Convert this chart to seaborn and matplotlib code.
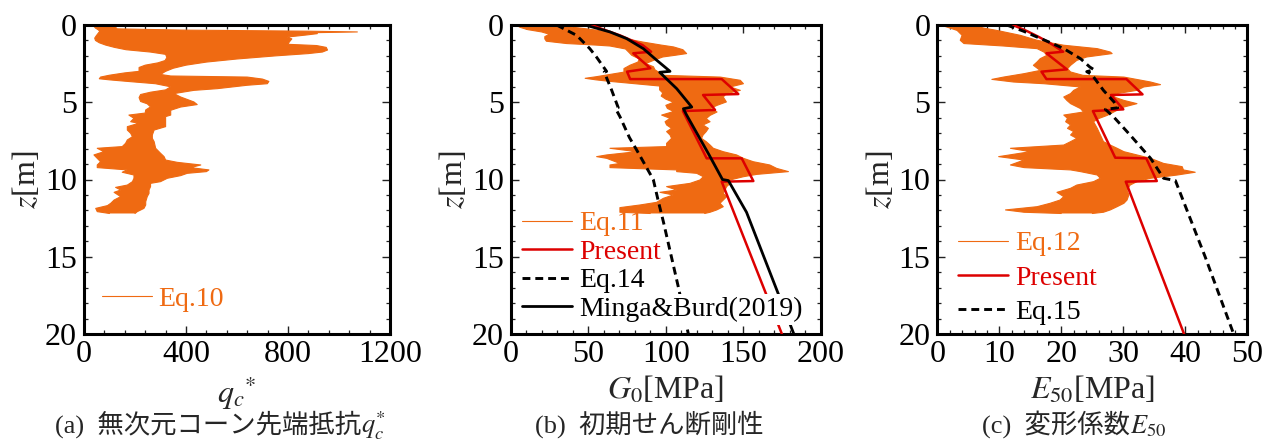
import numpy as np
import matplotlib
matplotlib.use("Agg")
import matplotlib.pyplot as plt
import seaborn as sns
from matplotlib.ticker import MultipleLocator

# ---------------- data ----------------
# (a) dimensionless cone tip resistance qc* : envelope of the CPT trace
qa_right_z = [0.03, 0.05, 0.08, 0.25, 0.33, 0.40, 0.45, 0.50, 0.56, 0.65, 0.78, 0.9, 1.1, 1.25, 1.33, 1.45,
              1.62, 1.75, 1.85, 2.0, 2.2, 2.4, 2.6, 2.8, 3.0, 3.2, 3.3, 3.37, 3.5, 3.65, 3.8, 3.9, 4.12,
              4.23, 4.44, 4.66, 4.98, 5.15, 5.31, 5.52, 5.83, 5.93, 6.58, 6.8, 7.12, 7.34, 7.55, 7.98,
              8.3, 8.52, 8.74, 8.89, 9.06, 9.23, 9.38, 9.49, 9.6, 9.75, 9.92, 10.14, 10.25, 10.46,
              10.68, 10.9, 11.11, 11.44, 11.65, 11.87, 12.08, 12.2]
qa_right_v = [60, 350, 120, 130, 390, 880, 1072, 890, 915, 870, 797, 815, 805, 800, 912, 950,
              955, 935, 880, 750, 600, 480, 400, 350, 320, 300, 340, 640, 700, 725, 719, 640, 523,
              431, 353, 379, 431, 444, 379, 340, 340, 320, 320, 275, 268, 268, 275, 281,
              300, 314, 320, 366, 458, 418, 490, 480, 405, 379, 327, 300, 261, 261,
              255, 255, 248, 242, 242, 235, 209, 200]
qa_left_z = [0.03, 0.05, 0.1, 0.2, 0.3, 0.4, 0.55, 0.7, 0.85, 1.0, 1.15, 1.3, 1.45, 1.6, 1.75, 1.9, 2.1,
             2.3, 2.45, 2.6, 2.75, 3.0, 3.1, 3.25, 3.37, 3.48, 3.55, 3.65, 3.8, 4.0, 4.2, 4.35, 4.5,
             4.7, 4.95, 5.1, 5.3, 5.5, 5.7, 5.83, 6.04, 6.26, 6.36, 6.58, 6.8, 7.01, 7.23, 7.44, 7.66,
             7.87, 7.98, 8.2, 8.41, 8.63, 8.85, 9.06, 9.23, 9.38, 9.53, 9.71, 9.92, 10.14, 10.36,
             10.51, 10.68, 10.83, 11.11, 11.33, 11.54, 11.69, 11.87, 12.08, 12.2]
qa_left_v = [40, 30, 40, 45, 55, 62, 55, 48, 42, 45, 60, 85, 120, 165, 260, 320, 325,
             318, 290, 240, 216, 216, 160, 100, 65, 60, 100, 170, 280, 340, 320, 261, 222,
             216, 222, 248, 261, 242, 240, 176, 196, 183, 215, 170, 170, 183, 190, 170, 163,
             150, 52, 78, 39, 52, 65, 52, 52, 170, 150, 196, 196, 190, 170,
             124, 144, 118, 144, 118, 105, 92, 46, 52, 100]

# (b) initial shear stiffness G0 [MPa]
gb_right_z = [0.03, 0.06, 0.12, 0.3, 0.45, 0.6, 0.75, 0.9, 1.1, 1.3, 1.42, 1.6, 1.85, 1.96, 2.07, 2.29,
              2.5, 2.7, 2.9, 3.1, 3.26, 3.37, 3.58, 3.8, 4.01, 4.23, 4.44, 4.66, 4.98, 5.2, 5.41,
              5.63, 5.85, 6.06, 6.26, 6.47, 6.69, 6.9, 7.12, 7.34, 7.55, 7.77, 7.98, 8.2, 8.41,
              8.63, 8.85, 9.06, 9.28, 9.49, 9.67, 9.82, 10.03, 10.25, 10.46, 10.9, 11.11, 11.33,
              11.54, 11.76, 11.97, 12.12, 12.2]
gb_right_v = [10, 48, 38, 53, 62, 68, 72, 75, 85, 97, 105, 111, 113.4, 106, 98, 92,
              87, 92, 93, 96, 99, 135, 148, 150, 141.5, 148, 139, 137, 139, 133, 128.5,
              133, 128.5, 126, 128.5, 124, 127.4, 126, 124, 123, 126, 128.5, 130.6, 137, 145.6,
              150, 156.4, 167, 171.4, 179, 158.5, 150, 141.4, 141.4, 139.2, 137, 139.2, 137,
              134.9, 137, 132.8, 128.5, 125]
gb_left_z = [0.03, 0.15, 0.3, 0.45, 0.6, 0.75, 0.9, 1.05, 1.2, 1.3, 1.36, 1.55, 1.75, 1.96, 2.2, 2.4,
             2.6, 2.82, 3.05, 3.2, 3.35, 3.45, 3.55, 3.65, 3.8, 3.95, 4.2, 4.4, 4.6, 4.8, 5.0, 5.2,
             5.4, 5.6, 5.83, 6.04, 6.26, 6.47, 6.69, 6.9, 7.12, 7.34, 7.66, 7.87, 7.98, 8.2, 8.41,
             8.52, 8.63, 8.96, 9.06, 9.23, 9.38, 9.49, 9.6, 9.82, 10.03, 10.25, 10.46, 10.68,
             10.83, 11.0, 11.22, 11.48, 11.65, 11.82, 12.12, 12.2]
gb_left_v = [4, 6, 11, 20, 25, 22, 22, 23, 36, 55, 64, 74, 76, 78, 83, 82,
             77, 73, 73, 64, 55, 48, 55, 64, 80, 96, 96, 98, 97, 100, 105, 100,
             101, 105, 97.3, 102.7, 99.5, 100.5, 103.7, 100.5, 102.7, 103.7, 100.5, 100.5, 64, 81.2, 61.9,
             55.4, 61.9, 70.4, 64, 64, 107, 107, 119.9, 124.2, 122, 115.6, 100.5, 107,
             96.2, 104.8, 98.4, 94, 83.3, 70.4, 70.4, 90]

gb_present_z = [0.0, 0.3, 0.67, 1.0, 1.3, 1.73, 1.83, 2.8, 3.02, 3.5, 3.5, 4.47, 4.53, 5.5, 5.57,
                8.63, 8.63, 10.1, 10.14, 20.0]
gb_present_v = [52, 60, 70.4, 78, 85, 90.5, 79, 90, 75, 77, 136, 146.7, 124, 131.7, 111,
                126.3, 148.9, 156.4, 136, 174.8]
gb_eq14_z = [0.0, 0.67, 1.53, 2.09, 3.0, 3.05, 4.2, 5.35, 5.45, 5.93, 7.28, 8.09, 10.0, 11.43, 12.73,
             16.94, 20.0]
gb_eq14_v = [29.6, 42.5, 51, 55.4, 61.8, 60.3, 65, 69.3, 67.8, 70.4, 76.5, 81.2, 91.9, 95.2, 98.4,
             108, 114.5]
gb_minga_z = [0.0, 0.45, 0.88, 1.53, 2.27, 3.0, 3.06, 4.12, 5.31, 5.42, 5.83, 8.41, 10.0, 10.07,
              12.12, 17.15, 20.0]
gb_minga_v = [48, 64, 74.7, 85.5, 94, 102.7, 96, 107, 116.7, 111.3, 113.4, 127.9, 136.5, 140.3,
              152, 171.5, 182.5]

# (c) deformation modulus E50 [MPa]
ec_right_z = [0.03, 0.06, 0.2, 0.35, 0.67, 0.99, 1.31, 1.53, 1.75, 1.85, 2.07, 2.29, 2.61, 2.83, 3.04,
              3.26, 3.37, 3.69, 3.86, 4.01, 4.23, 4.44, 4.66, 4.88, 5.09, 5.31, 5.52, 5.85, 6.06,
              6.26, 6.69, 7.12, 7.55, 7.77, 7.98, 8.2, 8.41, 8.63, 8.96, 9.17, 9.38, 9.53, 9.71,
              9.92, 10.14, 10.36, 10.68, 11.0, 11.33, 11.54, 11.76, 11.97, 12.12, 12.2]
ec_right_v = [3, 6.2, 7.5, 9.6, 13.4, 16.1, 20.4, 25.8, 27.9, 28.2, 24.1, 22.5, 21.5, 21.0, 21.5,
              23.5, 30.1, 34.4, 36.0, 33.3, 32.2, 29.0, 28.5, 30.1, 32.2, 30.1, 29.0, 27.4, 26.0,
              25.2, 25.8, 26.3, 26.8, 27.9, 29.0, 30.1, 32.2, 34.4, 36.5, 39.5, 39.7, 41.6, 38.7,
              34.4, 32.2, 31.1, 30.6, 30.9, 30.6, 30.1, 29.0, 27.9, 26.8, 25]
ec_left_z = [0.03, 0.06, 0.35, 0.67, 0.99, 1.2, 1.36, 1.53, 1.75, 1.96, 2.18, 2.39, 2.61, 2.94, 3.15,
             3.37, 3.52, 3.69, 3.8, 4.01, 4.23, 4.44, 4.66, 4.88, 5.09, 5.41, 5.63, 5.83, 6.04,
             6.26, 6.47, 6.69, 6.9, 7.12, 7.34, 7.55, 7.77, 7.98, 8.2, 8.52, 8.74, 9.06, 9.23,
             9.38, 9.49, 9.71, 9.92, 10.14, 10.36, 10.57, 10.83, 11.11, 11.33, 11.54, 11.76,
             11.97, 12.12, 12.2]
ec_left_v = [1.5, 1.0, 3.2, 4.0, 3.7, 4.3, 10.7, 16.1, 17.2, 17.7, 16.6, 16.1, 15.5, 16.6, 14.0,
             10.7, 8.8, 12.3, 17.2, 23.1, 22.0, 21.5, 20.4, 20.9, 21.5, 23.1, 23.6, 20.4, 21.0,
             20.7, 21.5, 21.0, 22.0, 21.5, 22.5, 21.5, 20.4, 11.8, 15.0, 9.9, 14.0, 11.8, 14.0,
             21.5, 23.1, 25.8, 26.3, 25.2, 22.5, 21.5, 19.3, 20.4, 19.8, 18.2, 16.1,
             11.0, 14.0, 20]

ec_present_z = [0.0, 0.4, 0.8, 1.2, 1.73, 1.83, 2.87, 3.02, 3.5, 3.5, 4.49, 4.53, 5.46, 5.57,
                8.59, 8.63, 10.1, 10.14, 20.0]
ec_present_v = [12.2, 14.5, 16.5, 18.3, 20.3, 17.6, 20.9, 16.8, 17.6, 30.5, 33.1, 28.0, 30.0, 25.1,
                28.7, 33.7, 35.4, 30.4, 39.8]
ec_eq15_z = [0.0, 0.4, 0.78, 1.15, 1.53, 2.18, 2.72, 2.9, 3.02, 3.2, 4.23, 4.98, 5.36, 5.46, 5.93,
             7.12, 8.63, 9.92, 10.07, 15.0, 20.0]
ec_eq15_v = [11.2, 13.9, 16.1, 18.3, 20.4, 23.1, 24.6, 25.3, 24.1, 24.9, 26.8, 28.5, 29.1, 27.1, 28.4,
             31.1, 34.4, 36.5, 38.4, 43.2, 47.8]

xlims = [(0, 1200), (0, 200), (0, 50)]
xmajor = [400, 50, 10]
xminor = [80, 10, 2]
xlabels = [r'$q_c{}^{*}$', r'$G_0$[MPa]', r'$E_{50}$[MPa]']
ylabel = r'$z$[m]'
caption_text = ['(a)  無次元コーン先端抵抗', '(b)  初期せん断剛性', '(c)  変形係数']
caption_math = [r'$q_c^{*}$', '', r'$E_{50}$']
labels_a = ['Eq.10']
labels_b = ['Eq.11', 'Present', 'Eq.14', 'Minga&Burd(2019)']
labels_c = ['Eq.12', 'Present', 'Eq.15']

# ---------------- style ----------------
sns.set_style("ticks")
plt.rcParams['font.family'] = ['Liberation Serif', 'Noto Sans CJK JP']
plt.rcParams['mathtext.fontset'] = 'stix'
plt.rcParams['axes.unicode_minus'] = False

ORANGE = '#EF6A12'
RED = '#DD0000'
BLACK = '#000000'

fig = plt.figure(figsize=(12.67, 4.43), dpi=100)
W, H = 1267.0, 443.0
boxes = [(84, 306), (510.7, 310.3), (937.3, 310)]
axes = []
for (x0, w) in boxes:
    ax = fig.add_axes([x0 / W, (H - 334) / H, w / W, 309 / H])
    axes.append(ax)


def band(ax, rz, rv, lz, lv, label):
    xs = list(rv) + list(lv)[::-1]
    ys = list(rz) + list(lz)[::-1]
    ax.fill(xs, ys, color=ORANGE, lw=0, zorder=1)
    sns.lineplot(x=rv, y=rz, sort=False, estimator=None, ax=ax, color=ORANGE, lw=0.8,
                 label=label, zorder=1)
    sns.lineplot(x=lv, y=lz, sort=False, estimator=None, ax=ax, color=ORANGE, lw=0.8, zorder=1)
    return ax.lines[-2]


def line(ax, z, v, color, lw, ls='-', label=None):
    sns.lineplot(x=v, y=z, sort=False, estimator=None, ax=ax, color=color, lw=lw,
                 linestyle=ls, label=label, zorder=3)
    return ax.lines[-1]


DASH = (0, (2.7, 1.7))

# (a)
ax = axes[0]
h_a = [band(ax, qa_right_z, qa_right_v, qa_left_z, qa_left_v, labels_a[0])]

# (b)
ax = axes[1]
hb0 = band(ax, gb_right_z, gb_right_v, gb_left_z, gb_left_v, labels_b[0])
hb1 = line(ax, gb_present_z, gb_present_v, RED, 1.8, label=labels_b[1])
hb2 = line(ax, gb_eq14_z, gb_eq14_v, BLACK, 2.1, DASH, label=labels_b[2])
hb3 = line(ax, gb_minga_z, gb_minga_v, BLACK, 2.0, label=labels_b[3])
h_b = [hb0, hb1, hb2, hb3]

# (c)
ax = axes[2]
hc0 = band(ax, ec_right_z, ec_right_v, ec_left_z, ec_left_v, labels_c[0])
hc1 = line(ax, ec_present_z, ec_present_v, RED, 1.8, label=labels_c[1])
hc2 = line(ax, ec_eq15_z, ec_eq15_v, BLACK, 2.1, DASH, label=labels_c[2])
h_c = [hc0, hc1, hc2]

for i, ax in enumerate(axes):
    ax.set_xlim(*xlims[i])
    ax.set_ylim(20, 0)
    ax.xaxis.set_major_locator(MultipleLocator(xmajor[i]))
    ax.xaxis.set_minor_locator(MultipleLocator(xminor[i]))
    ax.yaxis.set_major_locator(MultipleLocator(5))
    ax.yaxis.set_minor_locator(MultipleLocator(1))
    ax.tick_params(which='both', direction='in', top=True, right=True, colors='#222222',
                   labelcolor='black')
    ax.tick_params(which='major', length=6, width=1.0, labelsize=23)
    ax.tick_params(which='minor', length=3, width=0.9)
    ax.tick_params(axis='x', which='major', pad=4)
    ax.tick_params(axis='y', which='major', pad=5)
    for s in ax.spines.values():
        s.set_linewidth(2.2)
        s.set_color('black')
    ax.set_xlabel(xlabels[i], fontsize=23, labelpad=4)
    ax.set_ylabel(ylabel, fontsize=23, labelpad=2)
    if ax.get_legend() is not None:
        ax.get_legend().remove()

leg_kw = dict(frameon=False, loc='lower left', borderaxespad=0, borderpad=0,
              handlelength=1.8, handletextpad=0.25, fontsize=20, labelcolor='linecolor')
axes[0].legend(handles=h_a, labels=labels_a, bbox_to_anchor=(0.058, 0.072),
               labelspacing=0.0, **leg_kw)
lb = axes[1].legend(handles=h_b, labels=labels_b, bbox_to_anchor=(0.036, 0.039),
                    labelspacing=0.11, **leg_kw)
lb.get_texts()[3].set_bbox(dict(facecolor='white', edgecolor='none', pad=2))
axes[2].legend(handles=h_c, labels=labels_c, bbox_to_anchor=(0.068, 0.029),
               labelspacing=0.32, **leg_kw)

# captions: Japanese part, then the math part placed right after it on the same baseline
cap_x0 = [55, 535, 981.7]
cap_base = (H - 433) / H
fig.canvas.draw()
renderer = fig.canvas.get_renderer()
for i in range(3):
    t = fig.text(cap_x0[i] / W, cap_base, caption_text[i], ha='left', va='baseline', fontsize=19)
    if caption_math[i]:
        bb = t.get_window_extent(renderer)
        fig.text(bb.x1 / W, cap_base, caption_math[i], ha='left', va='baseline', fontsize=19)

fig.savefig('out.png', dpi=100)
